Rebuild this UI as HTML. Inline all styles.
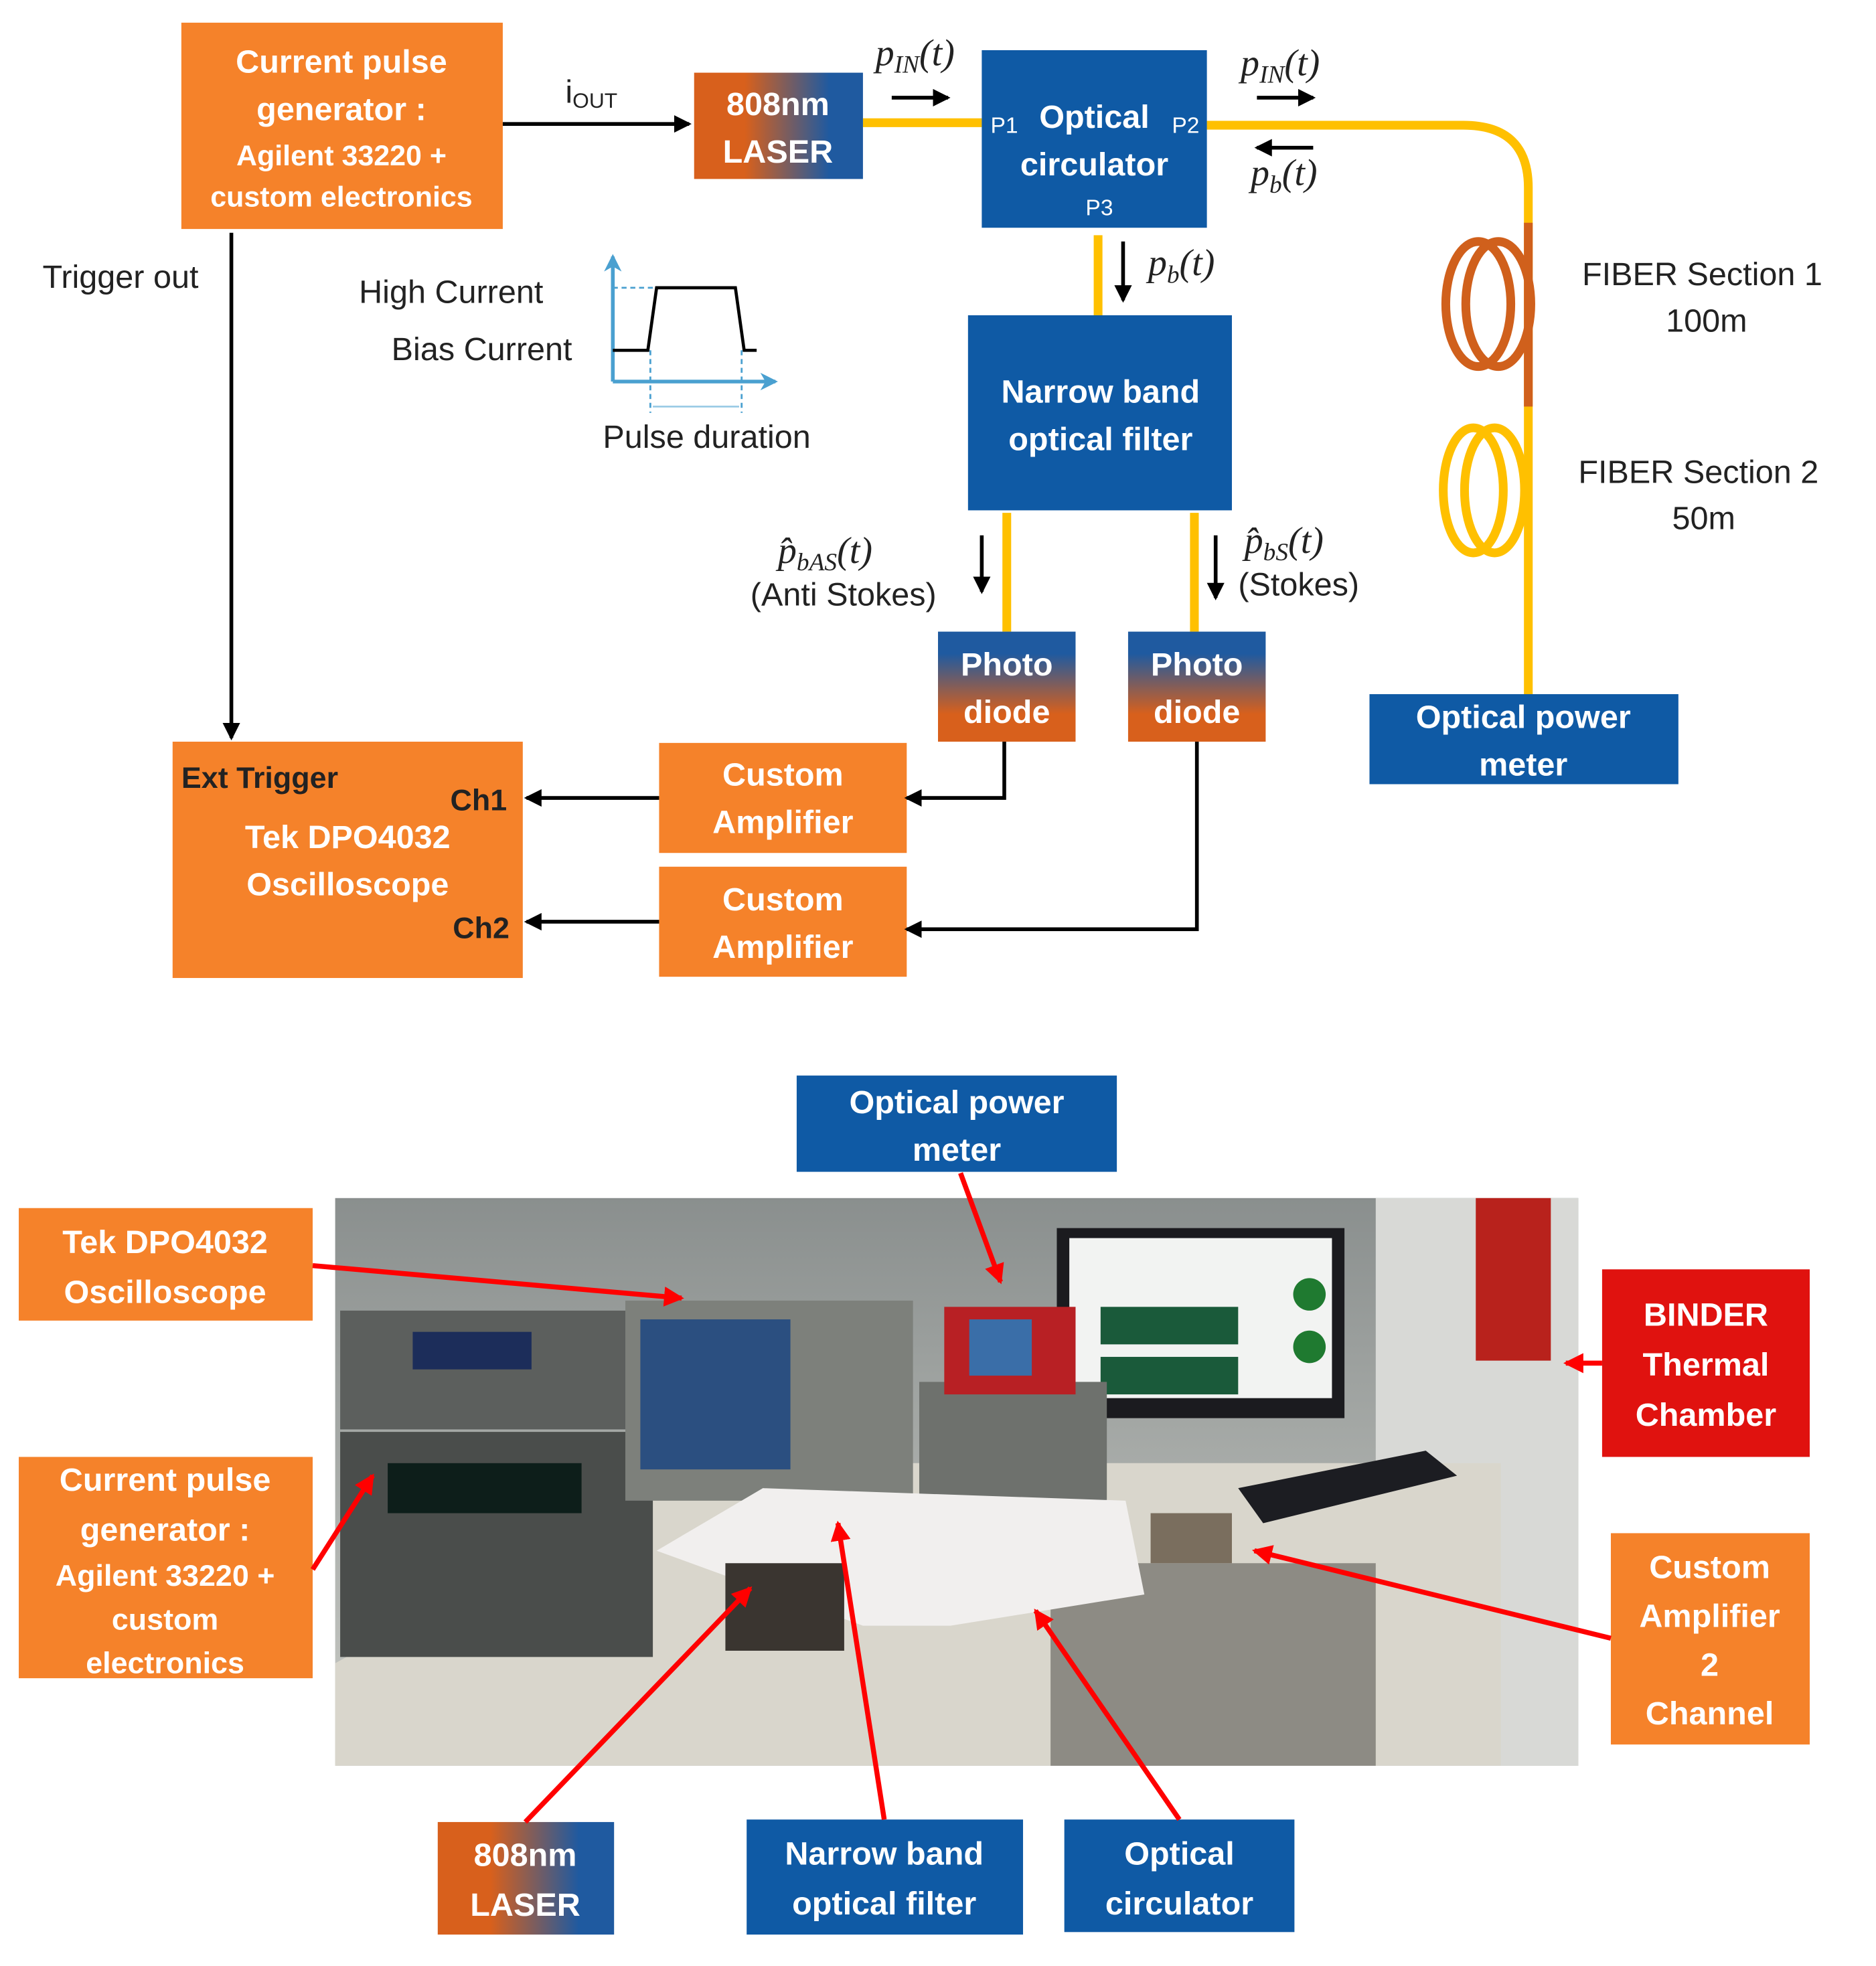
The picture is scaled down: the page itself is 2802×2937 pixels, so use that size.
<!DOCTYPE html>
<html><head><meta charset="utf-8"><style>
html,body{margin:0;padding:0;background:#fff}
svg{display:block}
text{font-family:"Liberation Sans",sans-serif}
.w{fill:#fff;font-weight:bold;font-size:26px;text-anchor:middle}
.b{fill:#222;font-size:26px}
.m{fill:#222;font-family:"Liberation Serif",serif;font-style:italic;font-size:30px}
</style></head><body>
<svg width="2802" height="2937" viewBox="0 0 1500 1572" xmlns="http://www.w3.org/2000/svg">
<defs>
<linearGradient id="lz" x1="0" x2="1" y1="0" y2="0"><stop offset="0.3" stop-color="#D8601C"/><stop offset="0.8" stop-color="#1F5AA0"/></linearGradient>
<linearGradient id="pd" x1="0" x2="0" y1="0" y2="1"><stop offset="0.2" stop-color="#1F5AA0"/><stop offset="0.75" stop-color="#D8601C"/></linearGradient>
<linearGradient id="wall" x1="0" x2="0" y1="0" y2="1"><stop offset="0" stop-color="#8a8f8e"/><stop offset="1" stop-color="#c9cbc6"/></linearGradient>
<marker id="ar" markerWidth="8" markerHeight="8" refX="7" refY="4" orient="auto" markerUnits="userSpaceOnUse"><path d="M0,0 L8,4 L0,8 z" fill="#000"/></marker>
<marker id="ar2" markerWidth="14" markerHeight="14" refX="12" refY="7" orient="auto" markerUnits="userSpaceOnUse"><path d="M0,0 L14,7 L0,14 z" fill="#000"/></marker>
<marker id="rr" markerWidth="16" markerHeight="16" refX="14" refY="8" orient="auto" markerUnits="userSpaceOnUse"><path d="M0,0 L16,8 L0,16 z" fill="#f00"/></marker>
<marker id="bl" markerWidth="14" markerHeight="14" refX="12" refY="7" orient="auto" markerUnits="userSpaceOnUse"><path d="M0,0 L14,7 L0,14 L4,7z" fill="#4aa0d0"/></marker>
</defs>

<!-- fibers -->
<g stroke="#FFC000" stroke-width="7" fill="none">
<line x1="690" y1="98" x2="785" y2="98"/>
<path d="M965,100 L1170,100 Q1222,100 1222,150 L1222,555"/>
<line x1="878" y1="188" x2="878" y2="252"/>
<line x1="805" y1="410" x2="805" y2="505"/>
<line x1="955" y1="410" x2="955" y2="505"/>
<ellipse cx="1178" cy="392" rx="24" ry="50"/><ellipse cx="1195" cy="392" rx="24" ry="50"/>
</g>
<g stroke="#D0601C" stroke-width="7" fill="none">
<line x1="1222" y1="178" x2="1222" y2="325"/>
<ellipse cx="1182" cy="243" rx="26" ry="50"/><ellipse cx="1198" cy="243" rx="26" ry="50"/>
</g>

<!-- boxes -->
<rect x="145" y="18" width="257" height="165" fill="#F5822A"/>
<text class="w"><tspan x="273" y="58">Current pulse</tspan><tspan x="273" y="96">generator :</tspan><tspan x="273" y="132" font-size="23">Agilent 33220 +</tspan><tspan x="273" y="165" font-size="23">custom electronics</tspan></text>
<rect x="555" y="58" width="135" height="85" fill="url(#lz)"/>
<text class="w"><tspan x="622" y="92">808nm</tspan><tspan x="622" y="130">LASER</tspan></text>
<rect x="785" y="40" width="180" height="142" fill="#0F5AA5"/>
<text class="w"><tspan x="875" y="102">Optical</tspan><tspan x="875" y="140">circulator</tspan></text>
<text fill="#fff" font-size="18" x="792" y="106">P1</text><text fill="#fff" font-size="18" x="937" y="106">P2</text><text fill="#fff" font-size="18" x="868" y="172">P3</text>
<rect x="774" y="252" width="211" height="156" fill="#0F5AA5"/>
<text class="w"><tspan x="880" y="322">Narrow band</tspan><tspan x="880" y="360">optical filter</tspan></text>
<rect x="750" y="505" width="110" height="88" fill="url(#pd)"/>
<text class="w"><tspan x="805" y="540">Photo</tspan><tspan x="805" y="578">diode</tspan></text>
<rect x="902" y="505" width="110" height="88" fill="url(#pd)"/>
<text class="w"><tspan x="957" y="540">Photo</tspan><tspan x="957" y="578">diode</tspan></text>
<rect x="1095" y="555" width="247" height="72" fill="#0F5AA5"/>
<text class="w"><tspan x="1218" y="582">Optical power</tspan><tspan x="1218" y="620">meter</tspan></text>
<rect x="138" y="593" width="280" height="189" fill="#F5822A"/>
<text fill="#222" font-weight="bold" font-size="24" x="145" y="630">Ext Trigger</text>
<text fill="#222" font-weight="bold" font-size="24" x="360" y="648">Ch1</text>
<text fill="#222" font-weight="bold" font-size="24" x="362" y="750">Ch2</text>
<text class="w"><tspan x="278" y="678">Tek DPO4032</tspan><tspan x="278" y="716">Oscilloscope</tspan></text>
<rect x="527" y="594" width="198" height="88" fill="#F5822A"/>
<text class="w"><tspan x="626" y="628">Custom</tspan><tspan x="626" y="666">Amplifier</tspan></text>
<rect x="527" y="693" width="198" height="88" fill="#F5822A"/>
<text class="w"><tspan x="626" y="728">Custom</tspan><tspan x="626" y="766">Amplifier</tspan></text>

<!-- connectors -->
<g stroke="#000" stroke-width="3" fill="none">
<line x1="402" y1="99" x2="551" y2="99" marker-end="url(#ar2)"/>
<line x1="185" y1="186" x2="185" y2="590" marker-end="url(#ar2)"/>
<line x1="527" y1="638" x2="421" y2="638" marker-end="url(#ar2)"/>
<line x1="527" y1="737" x2="421" y2="737" marker-end="url(#ar2)"/>
<polyline points="803,593 803,638 725,638" marker-end="url(#ar2)"/>
<polyline points="957,593 957,743 725,743" marker-end="url(#ar2)"/>
<line x1="713" y1="78" x2="758" y2="78" marker-end="url(#ar2)"/>
<line x1="1005" y1="78" x2="1050" y2="78" marker-end="url(#ar2)"/>
<line x1="1050" y1="118" x2="1005" y2="118" marker-end="url(#ar2)"/>
<line x1="898" y1="193" x2="898" y2="240" marker-end="url(#ar2)"/>
<line x1="785" y1="428" x2="785" y2="473" marker-end="url(#ar2)"/>
<line x1="972" y1="428" x2="972" y2="478" marker-end="url(#ar2)"/>
</g>
<text class="b" x="452" y="82" font-size="22">i<tspan font-size="17" dy="4">OUT</tspan></text>
<text class="m" x="700" y="52">p<tspan font-size="20" dy="6">IN</tspan><tspan dy="-6">(t)</tspan></text>
<text class="m" x="992" y="60">p<tspan font-size="20" dy="6">IN</tspan><tspan dy="-6">(t)</tspan></text>
<text class="m" x="1000" y="148">p<tspan font-size="20" dy="6">b</tspan><tspan dy="-6">(t)</tspan></text>
<text class="m" x="918" y="220">p<tspan font-size="20" dy="6">b</tspan><tspan dy="-6">(t)</tspan></text>
<text class="m" x="622" y="450">p̂<tspan font-size="20" dy="6">bAS</tspan><tspan dy="-6">(t)</tspan></text>
<text class="m" x="995" y="442">p̂<tspan font-size="20" dy="6">bS</tspan><tspan dy="-6">(t)</tspan></text>
<text class="b" x="600" y="484" font-size="23">(Anti Stokes)</text>
<text class="b" x="990" y="476" font-size="23">(Stokes)</text>
<text class="b" x="34" y="230">Trigger out</text>
<text class="b" x="287" y="242" font-size="28">High Current</text>
<text class="b" x="313" y="288">Bias Current</text>
<text class="b" x="482" y="358" font-size="23">Pulse duration</text>
<text class="b" x="1265" y="228">FIBER  Section 1</text><text class="b" x="1332" y="265">100m</text>
<text class="b" x="1262" y="386">FIBER  Section 2</text><text class="b" x="1337" y="423">50m</text>
<!-- pulse -->
<g fill="none">
<line x1="490" y1="305" x2="490" y2="205" stroke="#4aa0d0" stroke-width="3" marker-end="url(#bl)"/>
<line x1="490" y1="305" x2="620" y2="305" stroke="#4aa0d0" stroke-width="3" marker-end="url(#bl)"/>
<polyline points="490,280 518,280 525,230 588,230 595,280 605,280" stroke="#000" stroke-width="2.5"/>
<line x1="490" y1="230" x2="525" y2="230" stroke="#4aa0d0" stroke-dasharray="4,3" stroke-width="1.5"/>
<line x1="520" y1="280" x2="520" y2="330" stroke="#4aa0d0" stroke-dasharray="4,3" stroke-width="1.5"/>
<line x1="593" y1="280" x2="593" y2="330" stroke="#4aa0d0" stroke-dasharray="4,3" stroke-width="1.5"/>
<line x1="522" y1="325" x2="591" y2="325" stroke="#9ccbe6" stroke-width="1.5"/>
</g>

<!-- photo -->
<rect x="268" y="958" width="994" height="454" fill="url(#wall)"/>
<rect x="1100" y="958" width="162" height="454" fill="#d8d9d6"/>
<rect x="1180" y="958" width="60" height="130" fill="#b8221c"/>
<polygon points="268,1330 560,1170 1200,1170 1200,1412 268,1412" fill="#d9d6cc"/>
<rect x="840" y="1250" width="260" height="162" fill="#5a5853" opacity="0.6"/>
<rect x="845" y="982" width="230" height="152" fill="#1b1b1f"/>
<rect x="855" y="990" width="210" height="128" fill="#f2f3f2"/>
<rect x="880" y="1045" width="110" height="30" fill="#1a5a3a"/><rect x="880" y="1085" width="110" height="30" fill="#1a5a3a"/>
<circle cx="1047" cy="1035" r="13" fill="#1f7a30"/><circle cx="1047" cy="1077" r="13" fill="#1f7a30"/>
<rect x="272" y="1048" width="240" height="95" fill="#5c5f5d"/>
<rect x="330" y="1065" width="95" height="30" fill="#1c2d5a"/>
<rect x="272" y="1145" width="250" height="180" fill="#4a4d4b"/>
<rect x="310" y="1170" width="155" height="40" fill="#0d1e1a"/>
<rect x="500" y="1040" width="230" height="160" fill="#7d807b"/>
<rect x="512" y="1055" width="120" height="120" fill="#2b4f80"/>
<rect x="735" y="1105" width="150" height="95" fill="#6e716d"/>
<rect x="755" y="1045" width="105" height="70" fill="#b82024"/>
<rect x="775" y="1055" width="50" height="45" fill="#3a6ea8"/>
<polygon points="525,1240 610,1190 900,1200 915,1275 760,1300 690,1300" fill="#f1efee"/>
<polygon points="990,1190 1140,1160 1165,1180 1010,1218" fill="#1c1d22"/>
<rect x="920" y="1210" width="65" height="40" fill="#7a6e5e"/>
<rect x="580" y="1250" width="95" height="70" fill="#3a3530"/>

<!-- photo labels -->
<rect x="637" y="860" width="256" height="77" fill="#0F5AA5"/>
<text class="w" font-size="28"><tspan x="765" y="890">Optical power</tspan><tspan x="765" y="928">meter</tspan></text>
<rect x="15" y="966" width="235" height="90" fill="#F5822A"/>
<text class="w" font-size="28"><tspan x="132" y="1002">Tek DPO4032</tspan><tspan x="132" y="1042">Oscilloscope</tspan></text>
<rect x="15" y="1165" width="235" height="177" fill="#F5822A"/>
<text class="w" font-size="27"><tspan x="132" y="1192">Current pulse</tspan><tspan x="132" y="1232">generator :</tspan><tspan x="132" y="1268" font-size="24">Agilent 33220 +</tspan><tspan x="132" y="1303" font-size="24">custom</tspan><tspan x="132" y="1338" font-size="24">electronics</tspan></text>
<rect x="1281" y="1015" width="166" height="150" fill="#E0120F"/>
<text class="w" font-size="28"><tspan x="1364" y="1060">BINDER</tspan><tspan x="1364" y="1100">Thermal</tspan><tspan x="1364" y="1140">Chamber</tspan></text>
<rect x="1288" y="1226" width="159" height="169" fill="#F5822A"/>
<text class="w" font-size="28"><tspan x="1367" y="1262">Custom</tspan><tspan x="1367" y="1301">Amplifier</tspan><tspan x="1367" y="1340">2</tspan><tspan x="1367" y="1379">Channel</tspan></text>
<rect x="350" y="1457" width="141" height="90" fill="url(#lz)"/>
<text class="w" font-size="28"><tspan x="420" y="1492">808nm</tspan><tspan x="420" y="1532">LASER</tspan></text>
<rect x="597" y="1455" width="221" height="92" fill="#0F5AA5"/>
<text class="w" font-size="28"><tspan x="707" y="1491">Narrow band</tspan><tspan x="707" y="1531">optical filter</tspan></text>
<rect x="851" y="1455" width="184" height="90" fill="#0F5AA5"/>
<text class="w" font-size="28"><tspan x="943" y="1491">Optical</tspan><tspan x="943" y="1531">circulator</tspan></text>

<g stroke="#f00" stroke-width="4" fill="none">
<line x1="768" y1="938" x2="800" y2="1025" marker-end="url(#rr)"/>
<line x1="250" y1="1012" x2="545" y2="1038" marker-end="url(#rr)"/>
<line x1="250" y1="1255" x2="298" y2="1180" marker-end="url(#rr)"/>
<line x1="1281" y1="1090" x2="1252" y2="1090" marker-end="url(#rr)"/>
<line x1="1288" y1="1310" x2="1003" y2="1240" marker-end="url(#rr)"/>
<line x1="420" y1="1457" x2="600" y2="1270" marker-end="url(#rr)"/>
<line x1="707" y1="1455" x2="670" y2="1218" marker-end="url(#rr)"/>
<line x1="943" y1="1455" x2="828" y2="1288" marker-end="url(#rr)"/>
</g>
</svg>
</body></html>
